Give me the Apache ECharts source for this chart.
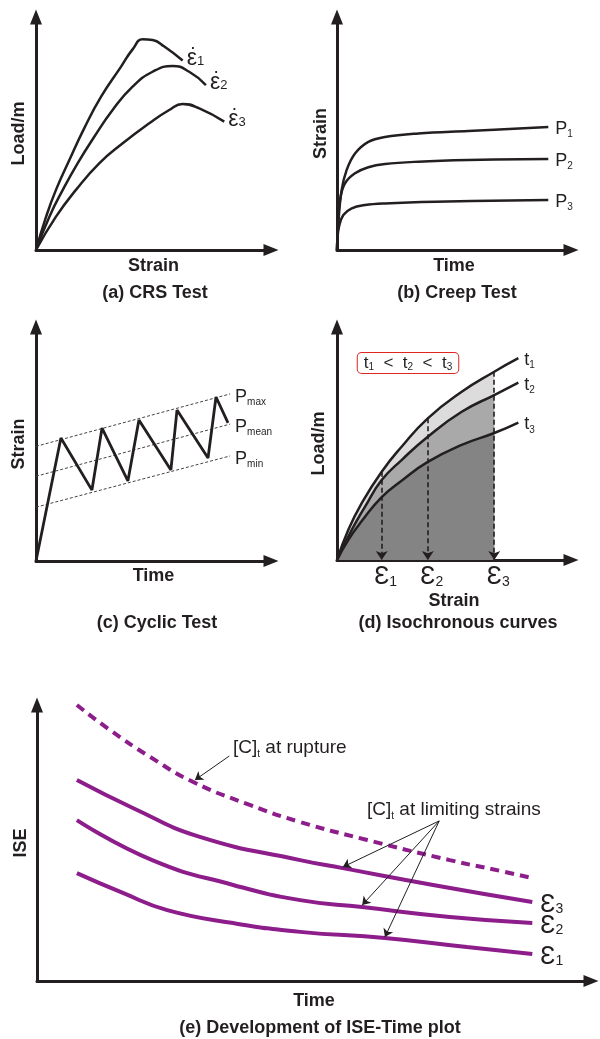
<!DOCTYPE html>
<html><head><meta charset="utf-8">
<script src="https://cdn.jsdelivr.net/npm/echarts/dist/echarts.min.js"></script>
<style>html,body{margin:0;padding:0;background:#fff}#c{width:600px;height:1039px}</style>
</head><body><div id="c"></div>
<script>
// ---------- data (arbitrary schematic units 0..100) ----------
// (a) CRS test: load vs strain for three strain rates
const crsRate1 = [[0,0],[4.3,14.3],[8.5,25.8],[14.2,38.6],[20.5,52.2],[27.7,65.8],[36.2,78.7],[41.1,86.1],[45.4,90.4],[49.6,90.1],[54.6,87.3],[62.4,81.3]];
const crsRate2 = [[0,0],[5.7,14.3],[11.4,25.8],[17.7,37.2],[24.8,48.6],[32.6,60.1],[41.1,70.1],[49.6,76.5],[58.2,79],[65.2,76.5],[72.3,70.8]];
const crsRate3 = [[0,0],[8.5,14.3],[17,25.8],[26.9,37.2],[36.9,45.8],[48.2,54.4],[56.7,60.1],[62.4,62.7],[69.5,60.8],[80.1,55.1]];
// (b) Creep test: strain vs time for three loads
const creepP1 = [[0,0],[0.6,12],[2,25.8],[4.1,34.3],[7.7,41.4],[13.4,46.4],[20.5,48.5],[34.7,50],[56.1,51.1],[90.3,52.8]];
const creepP2 = [[0,0],[0.4,10],[1.3,21.5],[3.4,28.6],[7.7,32.9],[13.4,35.5],[20.5,36.9],[34.7,37.9],[56.1,38.6],[90.3,39.1]];
const creepP3 = [[0,0],[0.2,5],[0.85,10],[2.7,15],[6.3,17.9],[12,19.3],[20.5,20],[41.9,20.7],[90.3,21.5]];
// (c) Cyclic test
const cyclic = [[0,0],[10.6,52.6],[23.8,30.3],[28.1,56.8],[39.1,34.2],[43.8,60.3],[57.4,38.9],[60,64.5],[73.2,44],[76.6,70.1],[81.7,59]];
const pMax  = [[0,49],[82.6,71.4]];
const pMean = [[0,36.2],[82.6,58.5]];
const pMin  = [[0,23],[82.6,44.9]];
const pNames = ['max','mean','min'];
// (d) Isochronous curves
const isoT1 = [[0,0],[4.8,12.9],[10.5,24.3],[19.1,37.9],[27.6,48.6],[38.8,60.8],[53.3,72.2],[67.2,80.8],[77.5,86.6]];
const isoT2 = [[0,0],[6.3,12.9],[12,22.9],[19.1,34.3],[27.6,42.9],[38.8,52.9],[53.3,63.6],[67.2,70.8],[77.5,76.1]];
const isoT3 = [[0,0],[4.8,8.6],[10.5,16.6],[19.1,27],[27.6,34],[38.8,42.1],[53.3,49.4],[67.2,54.5],[77.5,59]];
const limitStrains = [19.1, 38.8, 67.2];
// (e) ISE-Time plot
const iseRupture = [[7.2,100],[13.2,90.9],[20.4,81.2],[28.2,72.1],[38.4,63.8],[47.5,57.6],[59.6,51.1],[74.5,43.8],[83.6,39.9],[89.4,37.3]];
const iseE3 = [[7.2,72.8],[17.3,62.7],[29.4,52.2],[47.5,43.8],[55.2,40.9],[71.5,34.8],[89.4,28.6]];
const iseE2 = [[7.2,58.3],[20.8,43.8],[35.4,34.8],[47.5,29.3],[58.7,26.8],[74.5,23.2],[89.4,21]];
const iseE1 = [[7.2,39.1],[15.5,31.9],[23.5,25.7],[35.4,21],[47.5,17.8],[62.8,15.6],[77.6,12.3],[89.4,9.8]];
const ruptureNote = [[34.7,81.5],[28.5,72.8]];
const limitNoteFrom = [72.6,58];
const limitNoteTo = [[55.2,41.3],[58.7,27.5],[62.8,15.9]];
// labels
const xNames = ['Strain','Time','Time','Strain','Time'];
const yNames = ['Load/m','Strain','Strain','Load/m','ISE'];
const titles = ['(a) CRS Test','(b) Creep Test','(c) Cyclic Test','(d) Isochronous curves','(e) Development of ISE-Time plot'];

// ---------- styling / layout ----------
const INK = '#231f20', PURPLE = '#8c1d8b';
const FONT = '"Liberation Sans", Arial, sans-serif';
const grids = [[36,17,235,233],[337,17,234,233],[36,327,235,234],[337,327,234,233],[37,705,554,276]];
const xGaps = [7,7,6,32,11], yGaps = [8,7,8,9,7];

function rich(main, sub, subLH) {
  return {
    m: {fontSize: main, fontFamily: FONT, color: INK, lineHeight: Math.round(main*1.15)},
    s: {fontSize: sub, fontFamily: FONT, color: INK, verticalAlign: 'bottom', lineHeight: subLH || sub}
  };
}
const nameStyle = {fontFamily: FONT, fontWeight: 'bold', fontSize: 18, color: INK};
function axis(i, name, gap) {
  return {
    type: 'value', gridIndex: i, min: 0, max: 100,
    name: name, nameLocation: 'middle', nameGap: gap, nameTextStyle: nameStyle,
    axisLine: {show: true, onZero: false, symbol: ['none','triangle'], symbolSize: [12,15],
               lineStyle: {color: INK, width: 3}},
    axisTick: {show: false}, axisLabel: {show: false}, splitLine: {show: false}
  };
}
function curve(i, data, color, width, extra) {
  return Object.assign({
    type: 'line', xAxisIndex: i, yAxisIndex: i, data: data, smooth: 0.5,
    showSymbol: false, symbol: 'none', clip: false, silent: true,
    lineStyle: {color: color, width: width}
  }, extra || {});
}
function endLab(text, r, dist, off) {
  return {endLabel: {show: true, formatter: text, distance: dist, offset: off || [0,0], color: INK, rich: r}};
}

const series = [];
// (a)
const rA = {
  d: {fontSize: 19, fontFamily: FONT, color: INK, lineHeight: 4, padding: [0,0,0,3]},
  e: {fontSize: 23, fontFamily: FONT, color: INK, lineHeight: 18},
  s: {fontSize: 13, fontFamily: FONT, color: INK, verticalAlign: 'bottom', lineHeight: 10}
};
[crsRate1, crsRate2, crsRate3].forEach((d, k) => series.push(curve(0, d, INK, 2.5,
  endLab('{d|\u00b7}\n{e|\u03b5}{s|' + (k+1) + '}', rA, 4, [0,-4]))));
// (b)
[creepP1, creepP2, creepP3].forEach((d, k) => series.push(curve(1, d, INK, 2.5,
  Object.assign({smooth: 0.4}, endLab('{m|P}{s|' + (k+1) + '}', rich(18, 10, 9), 7, [0,2])))));
// (c)
[pMax, pMean, pMin].forEach((d, k) => series.push({
  type: 'line', xAxisIndex: 2, yAxisIndex: 2, data: d, showSymbol: false, symbol: 'none', silent: true,
  lineStyle: {color: '#444', width: 1, type: [3,2]},
  endLabel: {show: true, formatter: '{m|P}{s|' + pNames[k] + '}', distance: 5, offset: [0,3], rich: rich(18, 10, 8)}
}));
series.push(curve(2, cyclic, INK, 2.8, {smooth: false}));
// (d) fills up to the last limiting strain
const lastIdx = d => d.findIndex(p => p[0] === limitStrains[2]);
[[isoT1,'#dcdcdc'],[isoT2,'#a9a9a9'],[isoT3,'#848484']].forEach(([d, c]) => series.push(curve(3, d.slice(0, lastIdx(d)+1), c, 0, {
  lineStyle: {width: 0, opacity: 0}, areaStyle: {color: c, opacity: 1}, z: 1
})));
[isoT1, isoT2, isoT3].forEach((d, k) => series.push(curve(3, d, INK, 2.5,
  Object.assign({z: 3}, endLab('{m|t}{s|' + (k+1) + '}', rich(18, 10, 9), 6, [0,2])))));
series.push({
  type: 'lines', coordinateSystem: 'cartesian2d', xAxisIndex: 3, yAxisIndex: 3, silent: true, z: 5,
  data: limitStrains.map(x => ({coords: [[x, isoT1.find(p => p[0] === x)[1]], [x, 0]]})),
  symbol: ['none','arrow'], symbolSize: 9,
  lineStyle: {color: INK, width: 1.6, type: [5,3], opacity: 1, curveness: 0}
});
const rD = {e: {fontSize: 25, fontFamily: FONT, color: INK, lineHeight: 24}, s: {fontSize: 14, fontFamily: FONT, color: INK, verticalAlign: 'bottom', lineHeight: 11}};
series.push({
  type: 'scatter', xAxisIndex: 3, yAxisIndex: 3, symbolSize: 0, silent: true, z: 5,
  itemStyle: {color: INK, opacity: 1},
  data: limitStrains.map(x => [x, 0]),
  label: {show: true, position: 'bottom', distance: 5, offset: [4,0], color: INK, opacity: 1,
          formatter: p => '{e|\u0190}{s|' + (p.dataIndex+1) + '}', rich: rD}
});
// (e)
series.push(curve(4, iseRupture, PURPLE, 4, {lineStyle: {color: PURPLE, width: 4, type: [9,6], cap: 'butt'}}));
const rE = {e: {fontSize: 25, fontFamily: FONT, color: INK, lineHeight: 22}, s: {fontSize: 14, fontFamily: FONT, color: INK, verticalAlign: 'bottom', lineHeight: 10}};
[[iseE3,3],[iseE2,2],[iseE1,1]].forEach(([d, k]) => series.push(curve(4, d, PURPLE, 4,
  endLab('{e|\u0190}{s|' + k + '}', rE, 8, [0,3]))));
series.push({
  type: 'lines', coordinateSystem: 'cartesian2d', xAxisIndex: 4, yAxisIndex: 4, silent: true, z: 5,
  data: [{coords: ruptureNote}].concat(limitNoteTo.map(t => ({coords: [limitNoteFrom, t]}))),
  symbol: ['none','arrow'], symbolSize: 8,
  lineStyle: {color: INK, width: 1, opacity: 1, curveness: 0}
});

// ---------- free texts ----------
const titlePos = [[155,293],[457,293],[157,623],[458,623],[320,1028]];
const graphic = titles.map((t, i) => ({
  type: 'text', x: titlePos[i][0], y: titlePos[i][1], silent: true,
  style: {text: t, font: 'bold 18px ' + FONT, fill: INK, align: 'center', verticalAlign: 'middle', textAlign: 'center', textVerticalAlign: 'middle'}
}));
const rNote = {m: {fontSize: 19, fontFamily: FONT, fill: INK, color: INK, lineHeight: 22}, s: {fontSize: 10, fontFamily: FONT, fill: INK, color: INK, verticalAlign: 'bottom', lineHeight: 9}};
graphic.push({type: 'text', x: 233, y: 748, silent: true, style: {text: '{m|[C]}{s|t}{m| at rupture}', rich: rNote, align: 'left', verticalAlign: 'middle'}});
graphic.push({type: 'text', x: 367, y: 810, silent: true, style: {text: '{m|[C]}{s|t}{m| at limiting strains}', rich: rNote, align: 'left', verticalAlign: 'middle'}});
const rBox = {m: {fontSize: 17, fontFamily: FONT, fill: INK, color: INK, lineHeight: 18}, s: {fontSize: 10, fontFamily: FONT, fill: INK, color: INK, verticalAlign: 'bottom', lineHeight: 8}};
graphic.push({type: 'text', x: 408, y: 363, silent: true, style: {
  text: '{m|t}{s|1}{m|  <  t}{s|2}{m|  <  t}{s|3}', rich: rBox, align: 'center', verticalAlign: 'middle',
  borderColor: '#e0261f', borderWidth: 1, borderRadius: 4, padding: [1,6], backgroundColor: '#fff'}});

const option = {
  animation: false, backgroundColor: '#fff',
  grid: grids.map(g => ({left: g[0], top: g[1], width: g[2], height: g[3], containLabel: false, outerBoundsMode: 'none'})),
  xAxis: xNames.map((n, i) => axis(i, n, xGaps[i])),
  yAxis: yNames.map((n, i) => axis(i, n, yGaps[i])),
  series: series,
  graphic: graphic
};
const chart = echarts.init(document.getElementById('c'), null, {renderer: 'canvas'});
chart.setOption(option);
</script></body></html>
